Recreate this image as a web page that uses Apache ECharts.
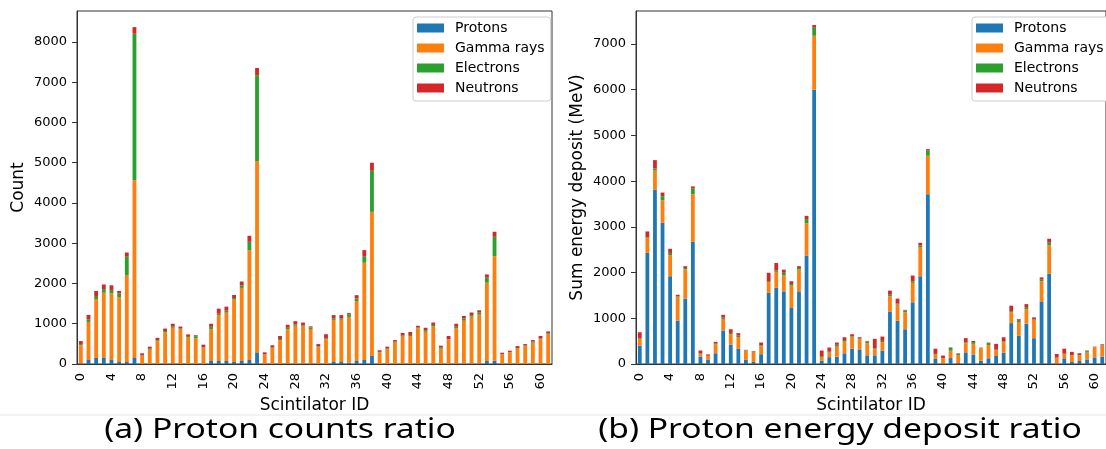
<!DOCTYPE html>
<html>
<head>
<meta charset="utf-8">
<script src="https://cdn.jsdelivr.net/npm/echarts@6/dist/echarts.min.js"></script>
<style>
    html, body { margin: 0; padding: 0; background: #fff; }
    #main { width: 1106px; height: 449px; }
</style>
</head>
<body>
<div id="main"></div>
<script>
    // scintillator ids 0..61
    const ids = Array.from({ length: 62 }, (_, i) => String(i))
    const names = ['Protons', 'Gamma rays', 'Electrons', 'Neutrons']
    const colors = ['#1f77b4', '#ff7f0e', '#2ca02c', '#d62728']

    // (a) counts
    const countProtons = [15, 100, 150, 150, 100, 50, 50, 150, 5, 5, 5, 10, 10, 5, 5, 5, 5, 75, 75, 75, 50, 75, 100, 290, 5, 5, 5, 10, 10, 10, 10, 5, 5, 50, 50, 30, 75, 100, 200, 5, 5, 5, 5, 5, 5, 5, 5, 5, 5, 10, 10, 10, 10, 75, 80, 5, 5, 5, 5, 5, 5, 5]
    const countGamma = [450, 945, 1465, 1620, 1655, 1615, 2160, 4415, 205, 350, 560, 775, 890, 850, 665, 635, 400, 785, 1140, 1200, 1550, 1815, 2730, 4750, 230, 385, 590, 850, 940, 920, 860, 410, 610, 1045, 1050, 1140, 1490, 2415, 3580, 285, 360, 525, 675, 690, 880, 795, 925, 375, 605, 875, 1065, 1165, 1215, 1945, 2600, 235, 285, 375, 440, 525, 605, 730]
    const countElectrons = [30, 65, 75, 90, 85, 90, 455, 3640, 5, 25, 25, 35, 25, 25, 25, 50, 10, 65, 35, 50, 40, 60, 205, 2135, 5, 25, 25, 40, 35, 25, 40, 20, 25, 40, 35, 65, 65, 165, 1020, 10, 15, 25, 25, 25, 25, 40, 40, 25, 10, 40, 60, 40, 60, 125, 480, 5, 5, 10, 15, 25, 25, 25]
    const countNeutrons = [75, 110, 125, 115, 115, 60, 105, 165, 50, 50, 60, 60, 75, 50, 40, 25, 65, 75, 125, 100, 75, 100, 150, 180, 50, 50, 75, 75, 80, 75, 25, 60, 100, 80, 80, 30, 80, 150, 200, 40, 50, 40, 65, 75, 40, 60, 60, 50, 75, 75, 60, 65, 50, 80, 125, 35, 35, 55, 35, 40, 60, 50]

    // (b) sum energy deposit, MeV
    const edepProtons = [400, 2430, 3810, 3090, 1920, 950, 1430, 2675, 160, 90, 235, 735, 420, 340, 90, 45, 215, 1555, 1665, 1590, 1225, 1590, 2375, 6000, 75, 150, 160, 235, 335, 320, 190, 190, 295, 1150, 945, 760, 1350, 1920, 3715, 110, 15, 130, 20, 255, 210, 75, 125, 175, 250, 895, 615, 880, 565, 1370, 1980, 15, 125, 45, 65, 100, 145, 160]
    const edepGamma = [150, 330, 420, 490, 460, 520, 640, 1040, 50, 80, 200, 250, 230, 250, 200, 220, 170, 240, 350, 345, 490, 475, 705, 1180, 80, 100, 220, 255, 260, 220, 265, 130, 185, 330, 355, 370, 425, 640, 840, 95, 110, 160, 175, 200, 230, 270, 290, 130, 220, 240, 290, 320, 400, 440, 615, 120, 95, 145, 120, 150, 220, 240]
    const edepElectrons = [15, 15, 50, 90, 50, 15, 30, 130, 20, 10, 20, 30, 30, 30, 10, 10, 20, 20, 35, 60, 35, 35, 90, 175, 20, 20, 40, 35, 15, 15, 40, 20, 25, 35, 20, 40, 35, 35, 110, 15, 5, 70, 30, 20, 40, 10, 50, 10, 20, 20, 40, 45, 10, 35, 60, 5, 5, 5, 10, 30, 5, 10]
    const edepNeutrons = [130, 125, 180, 80, 90, 30, 40, 40, 65, 30, 30, 60, 80, 55, 10, 10, 65, 180, 160, 70, 60, 40, 70, 60, 120, 90, 50, 60, 40, 30, 10, 210, 95, 90, 110, 15, 125, 55, 35, 115, 55, 5, 10, 90, 25, 5, 5, 125, 95, 120, 35, 65, 45, 50, 85, 80, 110, 70, 40, 15, 10, 20]

    const countTicks = [0, 1000, 2000, 3000, 4000, 5000, 6000, 7000, 8000]
    const edepTicks = [0, 1000, 2000, 3000, 4000, 5000, 6000, 7000]

    const font = 'DejaVu Sans'

    let setXAxis = (gridIndex) => {
        return {
            type: 'category',
            gridIndex,
            data: ids,
            name: 'Scintilator ID',
            nameLocation: 'middle',
            nameGap: 32,
            nameTextStyle: { fontSize: 17, color: '#000', fontFamily: font },
            axisLine: { lineStyle: { color: '#333' } },
            axisTick: { interval: 3, alignWithLabel: true, length: 5, lineStyle: { color: '#333' } },
            axisLabel: { interval: 3, rotate: 90, fontSize: 13, color: '#000', fontFamily: font, margin: 9 }
        }
    }
    let setYAxis = (gridIndex, max, name, ticks, gap) => {
        return {
            type: 'value',
            gridIndex,
            min: 0,
            max,
            name,
            nameLocation: 'middle',
            nameGap: gap,
            nameTextStyle: { fontSize: 17, color: '#000', fontFamily: font },
            axisLine: { show: true, lineStyle: { color: '#333' } },
            axisTick: { show: true, length: 5, customValues: ticks, lineStyle: { color: '#333' } },
            axisLabel: {
                customValues: ticks,
                formatter: (value) => String(value),
                fontSize: 13,
                color: '#000',
                fontFamily: font,
                margin: 10
            },
            splitLine: { show: false }
        }
    }
    let setSeries = (list, gridIndex, stack) => {
        return list.map((d, k) => ({
            name: names[k],
            type: 'bar',
            stack,
            xAxisIndex: gridIndex,
            yAxisIndex: gridIndex,
            barWidth: '50%',
            data: d,
            itemStyle: { color: colors[k] },
            emphasis: { disabled: true }
        }))
    }
    let setLegend = (left) => {
        return {
            left,
            top: 17,
            orient: 'vertical',
            icon: 'rect',
            itemWidth: 27,
            itemHeight: 9,
            itemGap: 6,
            padding: [4, 6, 6, 4],
            borderColor: '#ccc',
            borderWidth: 1,
            borderRadius: 3,
            backgroundColor: '#fff',
            textStyle: { fontSize: 14, color: '#000', fontFamily: font, padding: [0, 0, 0, 6] },
            data: names
        }
    }
    // sub-figure captions, wide font look
    let setCaption = (x, text) => {
        return {
            type: 'text',
            x,
            y: 430,
            scaleX: 1.2,
            style: { text, font: '28px "Noto Sans"', fill: '#000', align: 'center', verticalAlign: 'middle' }
        }
    }

    let myChart = echarts.init(document.getElementById('main'), null, { renderer: 'canvas' })
    myChart.setOption({
        animation: false,
        grid: [
            { left: 77, top: 11, width: 475, height: 353, show: true, borderColor: '#333', borderWidth: 1 },
            { left: 636, top: 11, width: 480, height: 353, show: true, borderColor: '#333', borderWidth: 1 }
        ],
        legend: [setLegend(413), setLegend(972)],
        xAxis: [setXAxis(0), setXAxis(1)],
        yAxis: [
            setYAxis(0, 8770, 'Count', countTicks, 50),
            setYAxis(1, 7722, 'Sum energy deposit (MeV)', edepTicks, 50)
        ],
        series: [
            ...setSeries([countProtons, countGamma, countElectrons, countNeutrons], 0, 'count'),
            ...setSeries([edepProtons, edepGamma, edepElectrons, edepNeutrons], 1, 'edep')
        ],
        graphic: [
            { type: 'line', shape: { x1: 0, y1: 415, x2: 1106, y2: 415 }, style: { stroke: '#e6e6e6', lineWidth: 1 } },
            setCaption(280, '(a) Proton counts ratio'),
            setCaption(840, '(b) Proton energy deposit ratio')
        ]
    })
</script>
</body>
</html>
